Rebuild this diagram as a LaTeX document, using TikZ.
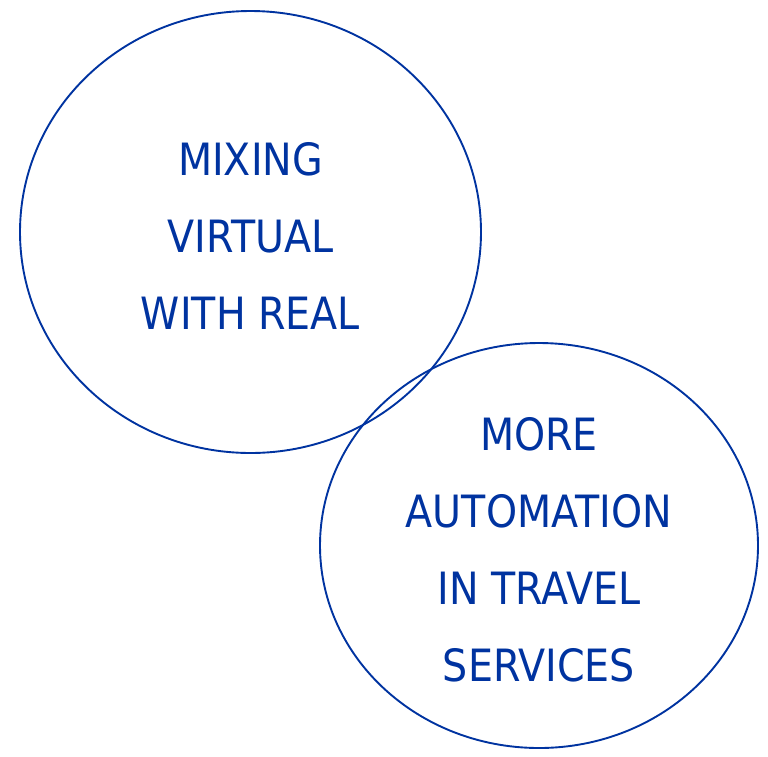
\documentclass[tikz,border=0pt]{standalone}
\usepackage{fontspec}
\setmainfont{DejaVu Sans}[FakeStretch=0.89]
\usepackage{xcolor}
\usepackage{tikz}
\usetikzlibrary{shapes.geometric}
\definecolor{ringblue}{RGB}{0,51,160}

\begin{document}
\begin{tikzpicture}[
  x=1pt, y=-1pt,
  ring/.style={draw=ringblue, ellipse, line width=1.9pt, inner sep=0pt, text=ringblue,
    align=center, font=\fontsize{44.5}{77}\selectfont}
]
\useasboundingbox (0,0) rectangle (768,756);
% first line gets a taller strut so the text block sits a little lower
\node[ring, minimum width=461pt, minimum height=442pt] (virtual) at (250.5,232)
  {\rule{0pt}{41pt}MIXING\\VIRTUAL\\WITH REAL};
\node[ring, minimum width=438pt, minimum height=405pt] (travel) at (539,545.5)
  {\rule{0pt}{41pt}MORE\\AUTOMATION\\IN TRAVEL\\SERVICES};
\end{tikzpicture}
\end{document}
